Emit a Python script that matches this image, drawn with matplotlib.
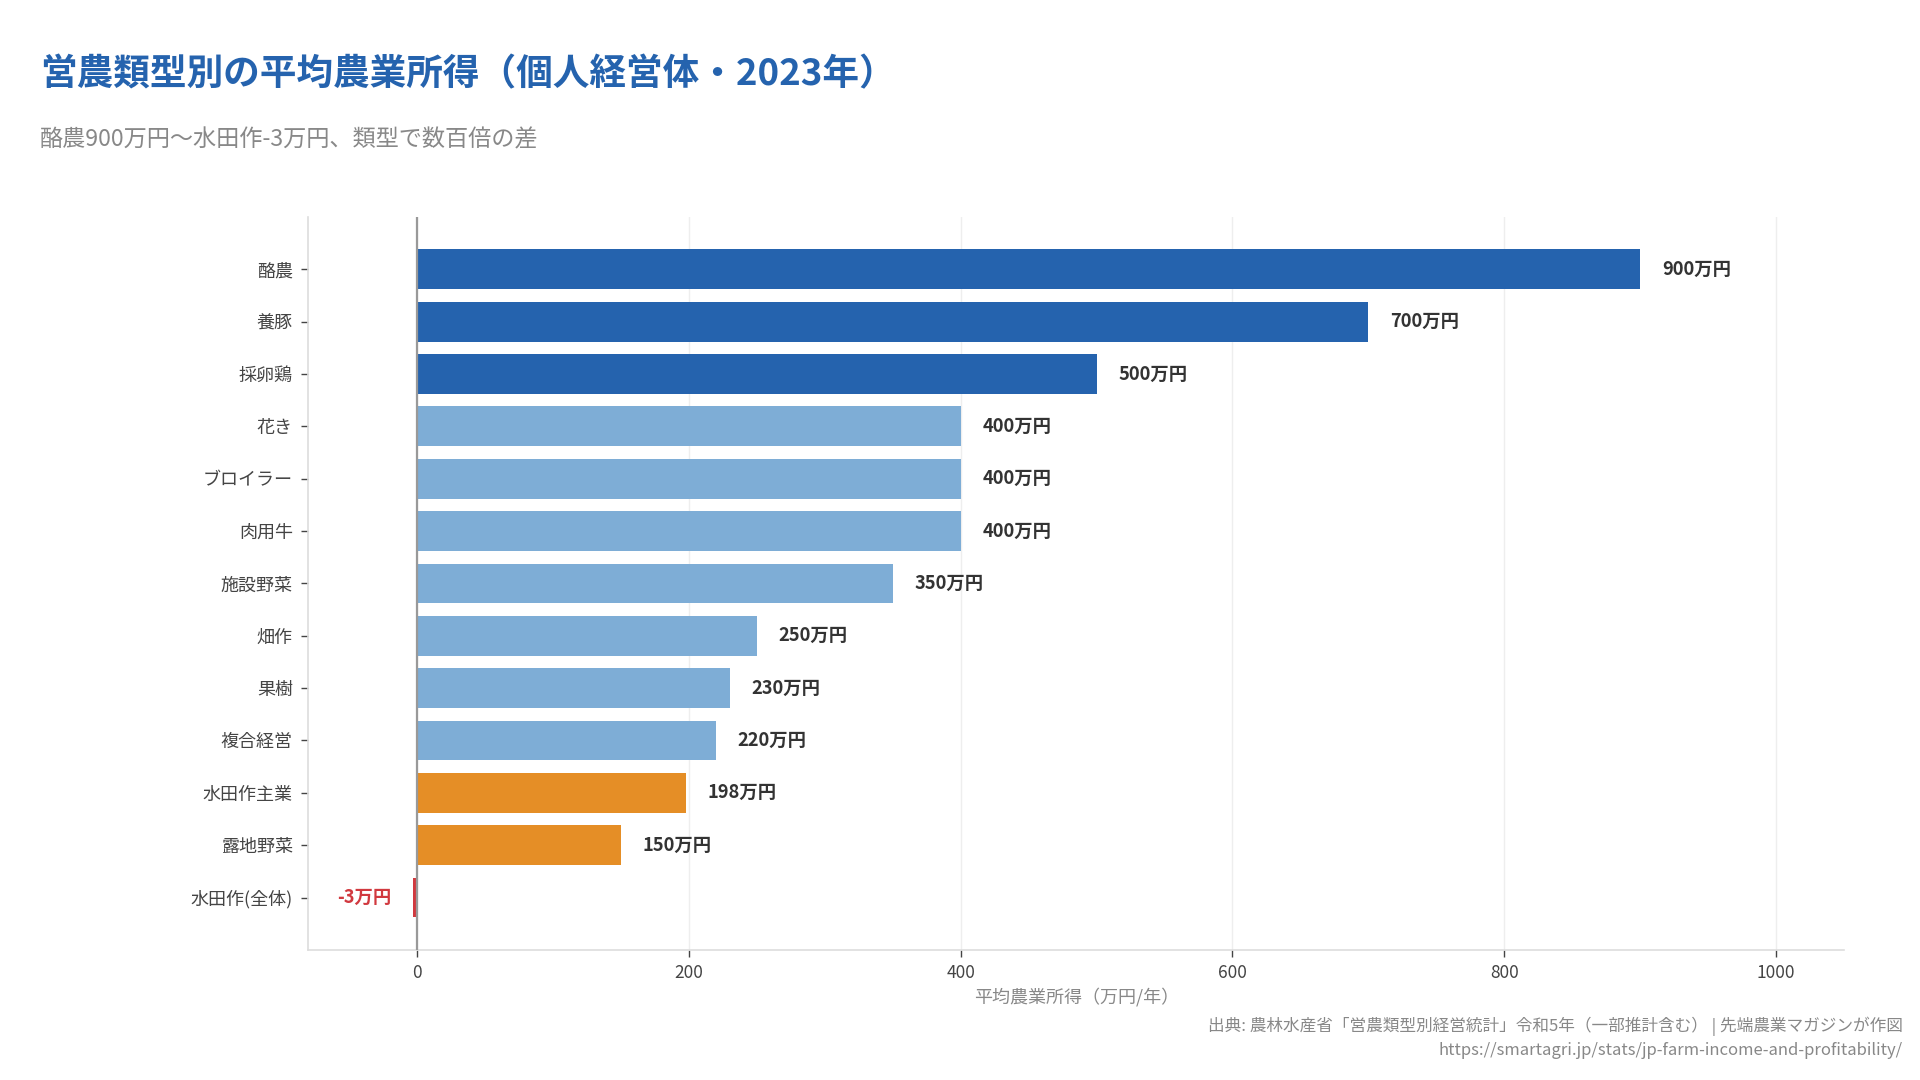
import numpy as np
import matplotlib.pyplot as plt

plt.rcParams['font.family'] = ['Noto Sans CJK JP', 'DejaVu Sans']

# Data
categories = ['酪農', '養豚', '採卵鶏', '花き', 'ブロイラー', '肉用牛', '施設野菜',
              '畑作', '果樹', '複合経営', '水田作主業', '露地野菜', '水田作(全体)']
income = [900, 700, 500, 400, 400, 400, 350, 250, 230, 220, 198, 150, -3]
groups = ['top', 'top', 'top', 'mid', 'mid', 'mid', 'mid', 'mid', 'mid', 'mid',
          'rice', 'rice', 'neg']
xticks = [0, 200, 400, 600, 800, 1000]

group_colors = {'top': '#2563ae', 'mid': '#7eadd6', 'rice': '#e58e26', 'neg': '#d1393f'}
colors = [group_colors[g] for g in groups]

fig = plt.figure(figsize=(19.2, 10.8), dpi=100)
ax = fig.add_axes([0.1605, 0.1205, 0.800, 0.6786])

ypos = np.arange(len(categories))
ax.barh(ypos, income, height=0.76, color=colors, zorder=3)

ax.set_ylim(len(categories), -1)
ax.set_xlim(-80, 1050)
ax.set_yticks(ypos)
ax.set_yticklabels(categories)
ax.set_xticks(xticks)
ax.tick_params(axis='y', length=5, width=1, color='#444', labelsize=13, labelcolor='#444', pad=6)
ax.tick_params(axis='x', length=5, width=1, color='#444', labelsize=12.5, labelcolor='#444', pad=5)

ax.grid(axis='x', color='#eeeeee', linewidth=1, zorder=0)
ax.axvline(0, color='#999999', linewidth=1.6, zorder=4)
for s in ['top', 'right']:
    ax.spines[s].set_visible(False)
for s in ['left', 'bottom']:
    ax.spines[s].set_color('#dddddd')
    ax.spines[s].set_linewidth(1.2)

for y, v, c in zip(ypos, income, colors):
    if v >= 0:
        ax.text(v + 16, y, f'{v}万円', ha='left', va='center', fontsize=13.2,
                fontweight='bold', color='#333333', zorder=5)
    else:
        ax.text(v - 16, y, f'{v}万円', ha='right', va='center', fontsize=13.2,
                fontweight='bold', color=c, zorder=5)

ax.set_xlabel('平均農業所得（万円/年）', fontsize=13, color='#888888', labelpad=4)

fig.text(0.0208, 0.931, '営農類型別の平均農業所得（個人経営体・2023年）', fontsize=26.4,
         fontweight='bold', color='#2563ae', ha='left', va='center')
fig.text(0.0208, 0.870, '酪農900万円〜水田作-3万円、類型で数百倍の差', fontsize=16.7,
         color='#888888', ha='left', va='center')
fig.text(0.991, 0.050, '出典: 農林水産省「営農類型別経営統計」令和5年（一部推計含む） | 先端農業マガジンが作図',
         fontsize=12, color='#888888', ha='right', va='center')
fig.text(0.991, 0.027, 'https://smartagri.jp/stats/jp-farm-income-and-profitability/',
         fontsize=12, color='#888888', ha='right', va='center')

fig.savefig('out.png', dpi=100)
